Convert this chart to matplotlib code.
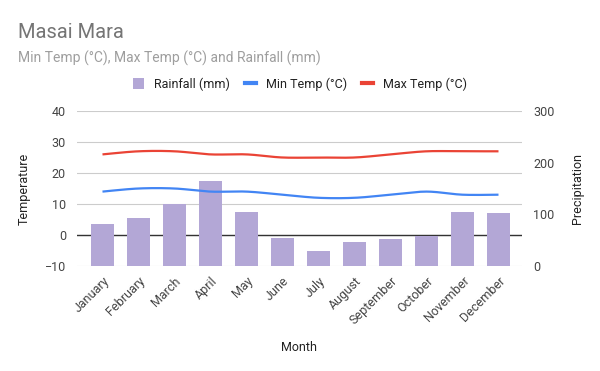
import matplotlib
matplotlib.use('Agg')
import matplotlib.pyplot as plt
from matplotlib.patches import Patch
from matplotlib.lines import Line2D
import numpy as np

# chart data
months = ['January', 'February', 'March', 'April', 'May', 'June', 'July',
          'August', 'September', 'October', 'November', 'December']
min_temp = [14, 15, 15, 14, 14, 13, 12, 12, 13, 14, 13, 13]
max_temp = [26, 27, 27, 26, 26, 25, 25, 25, 26, 27, 27, 27]
rainfall = [81, 93, 120, 165, 104, 54, 29, 46, 52, 59, 104, 103]

plt.rcParams['font.family'] = ['Roboto', 'DejaVu Sans']

BAR = '#b3a7d6'
BLUE = '#4285f4'
RED = '#ea4335'
TXT = '#444444'


# smooth curve through the points (Catmull-Rom), like a "function" curve type
def smooth(vals, n=24):
    x = np.arange(len(vals), dtype=float)
    y = np.array(vals, dtype=float)
    px = np.concatenate([[x[0]], x, [x[-1]]])
    py = np.concatenate([[y[0]], y, [y[-1]]])
    outx, outy = [], []
    t = np.linspace(0, 1, n, endpoint=False)
    for i in range(len(vals) - 1):
        for p, out in ((px, outx), (py, outy)):
            p0, p1, p2, p3 = p[i], p[i + 1], p[i + 2], p[i + 3]
            out.extend(0.5 * ((2 * p1) + (-p0 + p2) * t
                              + (2 * p0 - 5 * p1 + 4 * p2 - p3) * t ** 2
                              + (-p0 + 3 * p1 - 3 * p2 + p3) * t ** 3))
    outx.append(x[-1])
    outy.append(y[-1])
    return np.array(outx), np.array(outy)


fig = plt.figure(figsize=(6, 3.71), dpi=100)
ax = fig.add_axes([77 / 600, 1 - 266 / 371, 445 / 600, 155 / 371])
ax2 = ax.twinx()

x = np.arange(len(months))

# temperature axis (back): grid and zero line
ax.set_ylim(-10, 40)
ax.set_yticks([-10, 0, 10, 20, 30, 40])
ax.set_xlim(-0.708, 11.653)
ax.grid(axis='y', color='#cccccc', linewidth=0.8)
ax.axhline(0, color='#333333', linewidth=1.0)
ax.set_axisbelow(True)

# precipitation axis (front): bars, then temperature lines on top
ax2.set_ylim(0, 300)
ax2.set_yticks([0, 100, 200, 300])
ax2.bar(x, rainfall, width=0.64, color=BAR, zorder=2)
sx, sy = smooth(min_temp)
ax2.plot(sx, sy, color=BLUE, linewidth=1.6, transform=ax.transData, zorder=3,
         solid_capstyle='butt')
sx, sy = smooth(max_temp)
ax2.plot(sx, sy, color=RED, linewidth=1.6, transform=ax.transData, zorder=3,
         solid_capstyle='butt')

for a in (ax, ax2):
    for s in a.spines.values():
        s.set_visible(False)
    a.tick_params(length=0, colors=TXT, labelsize=9)

ax.set_xticks(x)
ax.set_xticklabels(months, rotation=45, ha='right', rotation_mode='anchor')
ax.tick_params(axis='x', pad=6)
ax.tick_params(axis='y', pad=8)
ax2.tick_params(axis='y', pad=8)

ax.set_xlabel('Month', fontsize=9, color='#222222', labelpad=10)
ax.set_ylabel('Temperature', fontsize=9, color='#222222', labelpad=10)
ax2.set_ylabel('Precipitation', fontsize=9, color='#222222', labelpad=12)

fig.text(18 / 600, 1 - 33 / 371, 'Masai Mara', fontsize=14.5, color='#757575',
         va='center', ha='left')
fig.text(18 / 600, 1 - 58 / 371, 'Min Temp (°C), Max Temp (°C) and Rainfall (mm)',
         fontsize=10, color='#9e9e9e', va='center', ha='left')

handles = [Patch(facecolor=BAR, edgecolor='none'),
           Line2D([], [], color=BLUE, linewidth=3),
           Line2D([], [], color=RED, linewidth=3)]
fig.legend(handles, ['Rainfall (mm)', 'Min Temp (°C)', 'Max Temp (°C)'],
           loc='center', bbox_to_anchor=(0.5, 1 - 84 / 371), ncol=3,
           frameon=False, fontsize=9, handlelength=0.9, handleheight=0.9,
           handletextpad=0.8, columnspacing=1.2, labelcolor='#222222')

fig.savefig('out.png', dpi=100)
